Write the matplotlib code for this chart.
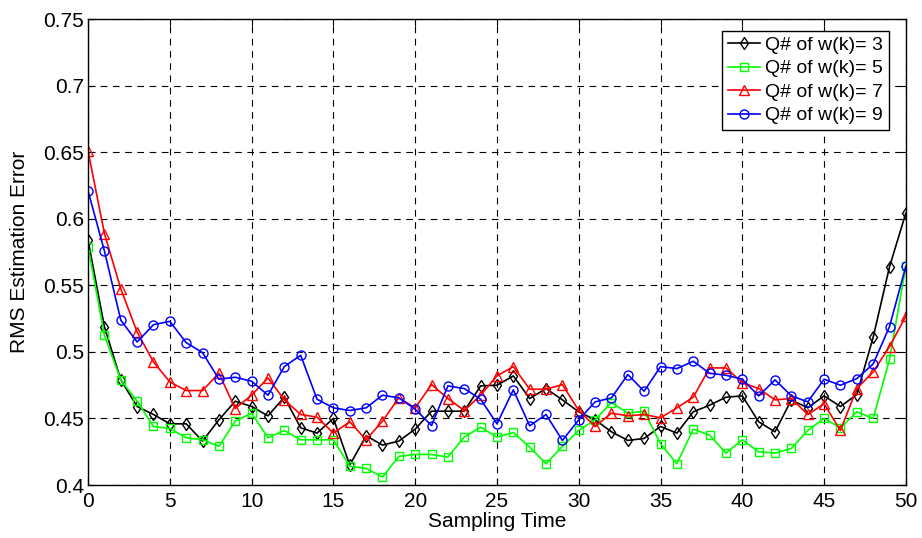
import matplotlib
matplotlib.use("Agg")
from matplotlib import pyplot as plt
import numpy as np

plt.rcParams['font.family'] = ['Liberation Sans', 'DejaVu Sans']

t = np.arange(0, 51)

# Q# of w(k) = 3
q3 = [0.584, 0.519, 0.479, 0.459, 0.453, 0.446, 0.446, 0.433, 0.449, 0.463,
      0.459, 0.452, 0.466, 0.443, 0.439, 0.450, 0.415, 0.437, 0.430, 0.433,
      0.442, 0.4555, 0.4555, 0.4555, 0.4745, 0.475, 0.482, 0.465, 0.4725, 0.464,
      0.455, 0.449, 0.440, 0.4335, 0.435, 0.444, 0.439, 0.455, 0.460, 0.466,
      0.467, 0.4475, 0.440, 0.464, 0.458, 0.467, 0.459, 0.468, 0.511, 0.564,
      0.6045]
# Q# of w(k) = 5
q5 = [0.579, 0.5125, 0.479, 0.463, 0.444, 0.4425, 0.4355, 0.434, 0.429, 0.448,
      0.454, 0.4355, 0.441, 0.434, 0.434, 0.434, 0.414, 0.4125, 0.406, 0.4215,
      0.423, 0.423, 0.421, 0.436, 0.4435, 0.436, 0.4395, 0.4285, 0.416, 0.429,
      0.441, 0.449, 0.462, 0.454, 0.4555, 0.431, 0.416, 0.442, 0.4375, 0.424,
      0.434, 0.425, 0.424, 0.4275, 0.441, 0.450, 0.443, 0.455, 0.450, 0.4945,
      0.5645]
# Q# of w(k) = 7
q7 = [0.651, 0.589, 0.5475, 0.515, 0.4925, 0.4775, 0.471, 0.471, 0.484, 0.4575,
      0.4675, 0.4805, 0.464, 0.453, 0.451, 0.439, 0.4475, 0.434, 0.448, 0.4655,
      0.458, 0.4755, 0.465, 0.456, 0.4675, 0.482, 0.489, 0.472, 0.472, 0.4755,
      0.456, 0.444, 0.454, 0.452, 0.453, 0.4505, 0.458, 0.466, 0.488, 0.488,
      0.477, 0.4725, 0.464, 0.465, 0.453, 0.461, 0.441, 0.4725, 0.485, 0.504,
      0.527]
# Q# of w(k) = 9
q9 = [0.621, 0.576, 0.524, 0.5075, 0.5205, 0.523, 0.507, 0.4995, 0.4795, 0.481,
      0.478, 0.4675, 0.489, 0.4975, 0.4645, 0.458, 0.456, 0.458, 0.4675, 0.4655,
      0.457, 0.4447, 0.4745, 0.4725, 0.4645, 0.446, 0.4715, 0.4445, 0.453, 0.4335,
      0.449, 0.4625, 0.4655, 0.483, 0.4705, 0.489, 0.4875, 0.493, 0.484, 0.4825,
      0.4795, 0.467, 0.479, 0.467, 0.4625, 0.4795, 0.475, 0.480, 0.491, 0.519,
      0.5645]

yticks = [0.4, 0.45, 0.5, 0.55, 0.6, 0.65, 0.7, 0.75]
ylabels = ['0.4', '0.45', '0.5', '0.55', '0.6', '0.65', '0.7', '0.75']
xticks = [0, 5, 10, 15, 20, 25, 30, 35, 40, 45, 50]

fig = plt.figure(figsize=(9.22, 5.38), dpi=100)
ax = fig.add_axes([0.0955, 0.0985, 0.887, 0.8655])

kw = dict(linewidth=1.2, markerfacecolor='none', markeredgewidth=1.0)
ax.plot(t, q3, '-d', color='k', markersize=6, label='Q# of w(k)= 3', **kw)
ax.plot(t, q5, '-s', color=(0, 1, 0), markersize=6, label='Q# of w(k)= 5', **kw)
ax.plot(t, q7, '-^', color=(1, 0, 0), markersize=7.5, label='Q# of w(k)= 7', **kw)
ax.plot(t, q9, '-o', color=(0, 0, 1), markersize=6.5, label='Q# of w(k)= 9', **kw)

ax.set_xlim(0, 50)
ax.set_ylim(0.4, 0.75)
ax.set_xticks(xticks)
ax.set_yticks(yticks)
ax.set_yticklabels(ylabels)
ax.tick_params(direction='in', top=True, right=True, labelsize=15, length=5)
ax.tick_params(axis='x', pad=5)
ax.tick_params(axis='y', pad=3)
ax.grid(True, color='k', linestyle=(0, (6, 5)), linewidth=0.8)
for s in ax.spines.values():
    s.set_linewidth(1.0)

ax.set_xlabel('Sampling Time', fontsize=15, labelpad=1)
ax.set_ylabel('RMS Estimation Error', fontsize=15, labelpad=10)

leg = ax.legend(loc='upper right', bbox_to_anchor=(0.979, 0.976), fontsize=14,
                fancybox=False, framealpha=1, edgecolor='k',
                handlelength=1.65, handletextpad=0.25, borderpad=0.3,
                labelspacing=0.3, borderaxespad=0)
leg.get_frame().set_linewidth(1.0)

fig.savefig('out.png', dpi=100)
